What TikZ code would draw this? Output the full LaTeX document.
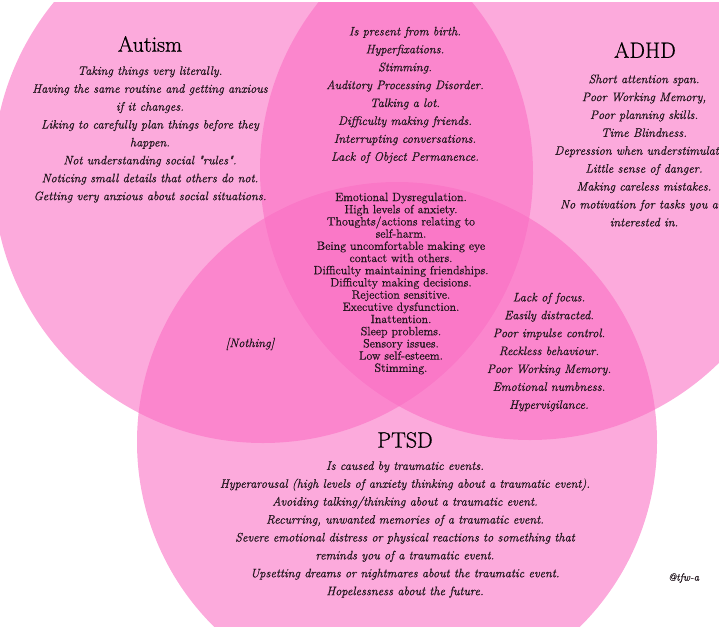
\documentclass[tikz,border=0pt]{standalone}
\usepackage{fontspec}
\usepackage{tikz}
\newfontfamily\vennfont{Latin Modern Roman}[FakeBold=0.7]
\definecolor{setpink}{RGB}{250,110,195}
\definecolor{ink}{RGB}{34,22,30}

\begin{document}
\begin{tikzpicture}[x=1pt, y=-1pt,
      set/.style={fill=setpink, fill opacity=0.59},
      head/.style={text=black, font=\vennfont\fontsize{22}{26}\selectfont},
      trait/.style={text=ink, align=center, font=\vennfont\fontsize{12.3}{17.9}\selectfont\itshape},
      shared/.style={text=ink, align=center, font=\vennfont\fontsize{12}{12.2}\selectfont}]
      \useasboundingbox (0,0) rectangle (719,626);
      \begin{scope}
        \clip (0,3) rectangle (719,626);
        \fill[set] (263,173) circle[radius=270pt];
        \fill[set] (530,170) circle[radius=270pt];
        \fill[set] (397,442) circle[radius=260pt];
      \end{scope}
      \node[head]  (autism) at (150,44)  {Autism};
      \node[head]  (adhd)   at (645,50)  {ADHD};
      \node[head]  (ptsd)   at (405,440) {PTSD};
      \node[trait] (autonly) at (150,134.5) {Taking things very literally.\\Having the same routine and getting anxious\\if it changes.\\Liking to carefully plan things before they\\happen.\\Not understanding social "rules".\\Noticing small details that others do not.\\Getting very anxious about social situations.};
      \node[trait] (autadhd) at (405,95) {Is present from birth.\\Hyperfixations.\\Stimming.\\Auditory Processing Disorder.\\Talking a lot.\\Difficulty making friends.\\Interrupting conversations.\\Lack of Object Permanence.};
      \node[trait] (adhdonly) at (644,150.5) {Short attention span.\\Poor Working Memory,\\Poor planning skills.\\Time Blindness.\\Depression when understimulated.\\Little sense of danger.\\Making careless mistakes.\\No motivation for tasks you are\\interested in.};
      \node[shared] (all) at (401,283.5) {Emotional Dysregulation.\\High levels of anxiety.\\Thoughts/actions relating to\\self-harm.\\Being uncomfortable making eye\\contact with others.\\Difficulty maintaining friendships.\\Difficulty making decisions.\\Rejection sensitive.\\Executive dysfunction.\\Inattention.\\Sleep problems.\\Sensory issues.\\Low self-esteem.\\Stimming.};
      \node[trait] (autptsd) at (250,344) {[Nothing]};
      \node[trait] (adhdptsd) at (549,352) {Lack of focus.\\Easily distracted.\\Poor impulse control.\\Reckless behaviour.\\Poor Working Memory.\\Emotional numbness.\\Hypervigilance.};
      \node[trait] (ptsdonly) at (405,529.5) {Is caused by traumatic events.\\Hyperarousal (high levels of anxiety thinking about a traumatic event).\\Avoiding talking/thinking about a traumatic event.\\Recurring, unwanted memories of a traumatic event.\\Severe emotional distress or physical reactions to something that\\reminds you of a traumatic event.\\Upsetting dreams or nightmares about the traumatic event.\\Hopelessness about the future.};
      \node[trait, font=\vennfont\fontsize{10.5}{12}\selectfont\itshape, anchor=west, inner sep=0pt] (handle) at (668,578) {@tfw-a};
    \end{tikzpicture}
\end{document}
